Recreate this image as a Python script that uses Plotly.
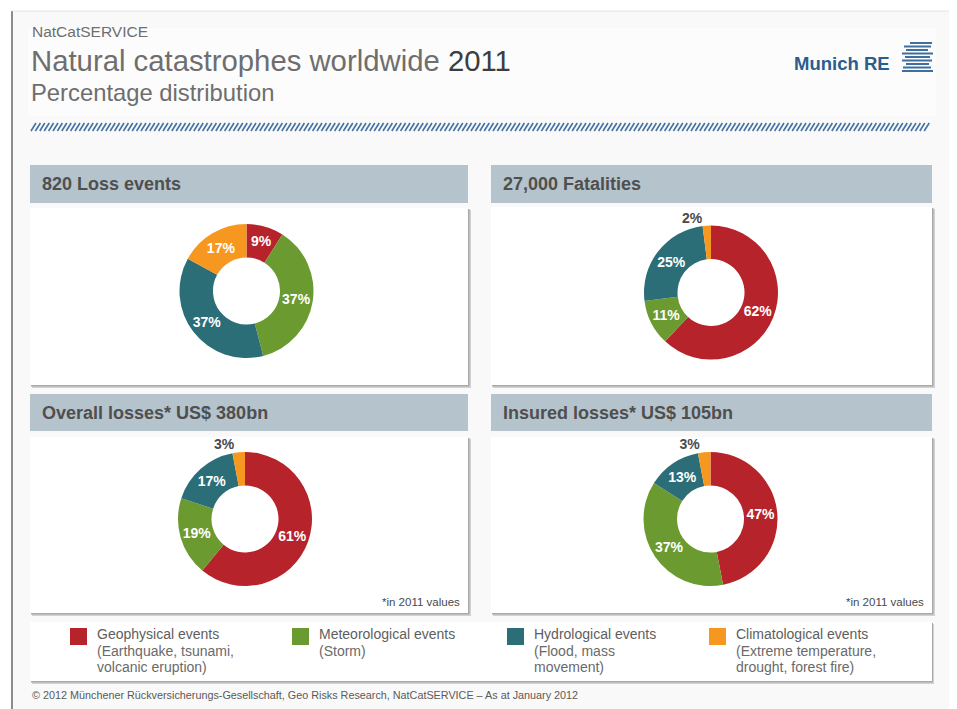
import plotly.graph_objects as go

W, H = 957, 709
OFF = 8  # the page body adds an 8px margin; coordinates below are screen pixels

# ---------------- data ----------------
categories = ["Geophysical events", "Meteorological events", "Hydrological events", "Climatological events"]
category_notes = [["(Earthquake, tsunami,", "volcanic eruption)"],
                  ["(Storm)"],
                  ["(Flood, mass", "movement)"],
                  ["(Extreme temperature,", "drought, forest fire)"]]
colors = ["#b7232b", "#6b9a31", "#2c6e78", "#f6971f"]

panel_titles = ["820 Loss events", "27,000 Fatalities",
                "Overall losses* US$ 380bn", "Insured losses* US$ 105bn"]
loss_events = [9, 37, 37, 17]
fatalities = [62, 11, 25, 2]
overall_losses = [61, 19, 17, 3]
insured_losses = [47, 37, 13, 3]
panel_values = [loss_events, fatalities, overall_losses, insured_losses]
panel_notes = ["", "", "*in 2011 values", "*in 2011 values"]

FONT = "Liberation Sans, Arial, sans-serif"


def fx(x):
    return (x - OFF) / W


def fy(y):
    return 1 - (y - OFF) / H


shapes = []
annotations = []


def rect(x0, y0, x1, y1, fill, line_color=None, lw=0):
    shapes.append(dict(type="rect", xref="paper", yref="paper", layer="below",
                       x0=fx(x0), x1=fx(x1), y0=fy(y1), y1=fy(y0),
                       fillcolor=fill,
                       line=dict(width=lw, color=line_color or fill)))


def line(x0, y0, x1, y1, color, width):
    shapes.append(dict(type="line", xref="paper", yref="paper", layer="below",
                       x0=fx(x0), x1=fx(x1), y0=fy(y0), y1=fy(y1),
                       line=dict(color=color, width=width)))


def text(x, y, s, size, color, weight="normal", xanchor="left", yanchor="middle"):
    annotations.append(dict(xref="paper", yref="paper", x=fx(x), y=fy(y), text=s,
                            showarrow=False, xanchor=xanchor, yanchor=yanchor,
                            font=dict(family=FONT, size=size, color=color, weight=weight)))


# ---------------- slide frame ----------------
rect(0, 0, W + OFF, H + OFF, "#ffffff")
rect(12, 11, 954, H + OFF, "#f9f9f9")
line(12, 11, 12, H + OFF, "#8c8c8c", 2)
line(954, 11, 954, H + OFF, "#9a9a9a", 2)
line(12, 11, 954, 11, "#e4e4e4", 1)
rect(28, 28, 936, 116, "#fcfcfc")

# header texts
text(30, 32, "NatCatSERVICE", 15.5, "#6e6e6e")
text(29, 60, "Natural catastrophes worldwide <span style='color:#3d3d3d'>2011</span>", 29.3, "#6e6e6e")
text(29, 92, "Percentage distribution", 23.8, "#6e6e6e")

# Munich RE logo
text(892, 64, "Munich RE", 18.5, "#2b5d8e", weight="bold", xanchor="right")
logo_lines = [(43, 910, 932), (46.5, 904, 931), (50, 906, 928), (53.5, 902, 933),
              (57, 905, 930), (60.5, 902, 932), (64, 906, 929), (67.5, 903, 931), (71, 902, 933)]
for ly, lx0, lx1 in logo_lines:
    line(lx0, ly, lx1, ly, "#3f6f9f", 2)

# hatched stripe
parts = []
xx = 31.0
while xx < 927:
    parts.append("M %.5f %.5f L %.5f %.5f" % (fx(xx), fy(131), fx(xx + 5), fy(123)))
    xx += 4.4
shapes.append(dict(type="path", xref="paper", yref="paper", layer="below",
                   path=" ".join(parts), line=dict(color="#4472a2", width=1.6)))

# ---------------- panels ----------------
panels = [
    dict(x0=30, x1=468, hy0=165, hy1=203, by0=208, by1=385, cx=246.5, cy=291),
    dict(x0=491, x1=932, hy0=165, hy1=203, by0=207, by1=385, cx=711, cy=292.5),
    dict(x0=30, x1=468, hy0=394, hy1=431, by0=437, by1=613, cx=245, cy=519),
    dict(x0=491, x1=932, hy0=394, hy1=431, by0=437, by1=613, cx=710.5, cy=519),
]
R = 67

fig = go.Figure()

for p, title, vals, note in zip(panels, panel_titles, panel_values, panel_notes):
    rect(p["x0"], p["hy0"], p["x1"], p["hy1"], "#b5c3cc")
    text(p["x0"] + 10, (p["hy0"] + p["hy1"]) / 2, title, 18, "#4f4f4f", weight="bold")
    # shadow + white box
    rect(p["x0"] + 2, p["by0"] + 2, p["x1"] + 3, p["by1"] + 3, "#d2d2d2")
    rect(p["x0"] + 1, p["by0"] + 1, p["x1"] + 1.5, p["by1"] + 1.5, "#a9a9a9")
    rect(p["x0"], p["by0"], p["x1"], p["by1"], "#ffffff")
    if note:
        text(p["x1"] - 6, p["by1"] - 11, note, 11.5, "#4a4a4a", xanchor="right")

    positions = ["inside" if v >= 5 else "outside" for v in vals]
    fig.add_trace(go.Pie(
        labels=categories, values=vals, sort=False, direction="clockwise", rotation=0,
        hole=0.5,
        marker=dict(colors=colors, line=dict(width=0)),
        texttemplate="%{value}%", textposition=positions,
        insidetextorientation="horizontal",
        insidetextfont=dict(family=FONT, size=14.5, color="#ffffff", weight="bold"),
        outsidetextfont=dict(family=FONT, size=14, color="#4a4a4a", weight="bold"),
        domain=dict(x=[fx(p["cx"] - R), fx(p["cx"] + R)],
                    y=[fy(p["cy"] + R), fy(p["cy"] - R)]),
        showlegend=False, hoverinfo="label+percent",
    ))

# ---------------- legend ----------------
rect(32, 624, 934, 684, "#d2d2d2")
rect(31, 623, 933, 682.5, "#a9a9a9")
rect(30, 622, 932, 681, "#ffffff")
legend_x = [70, 292, 507, 709]
for lx, name, notes, col in zip(legend_x, categories, category_notes, colors):
    rect(lx, 628, lx + 17, 645, col)
    text(lx + 25, 634, name, 14, "#5e5e5e")
    for i, n in enumerate(notes):
        text(lx + 25, 651 + 16 * i, n, 14, "#6a6a6a")

# footer
text(30, 695, "© 2012 Münchener Rückversicherungs-Gesellschaft, Geo Risks Research, NatCatSERVICE – As at January 2012",
     10.8, "#5a5a5a")

fig.update_layout(
    width=W, height=H,
    margin=dict(l=0, r=0, t=0, b=0),
    paper_bgcolor="#ffffff", plot_bgcolor="#ffffff",
    shapes=shapes, annotations=annotations,
    uniformtext=dict(minsize=14, mode="show"),
    font=dict(family=FONT),
)

fig.write_html("out.html")
